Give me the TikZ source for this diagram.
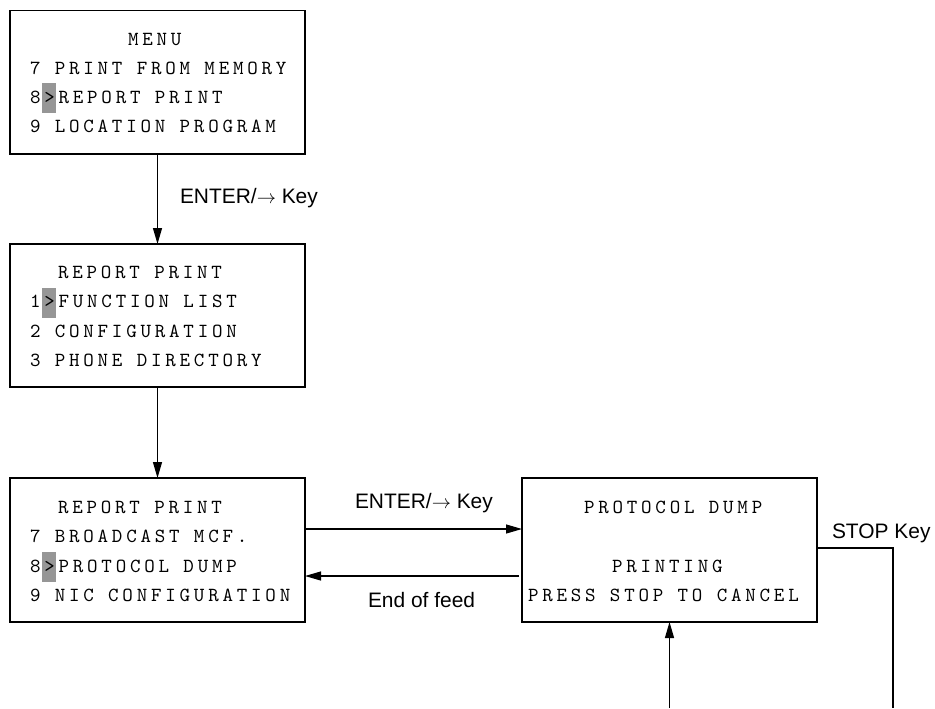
\documentclass[tikz,border=0pt]{standalone}
\usepackage{fontspec}
\usetikzlibrary{arrows.meta}
\newfontfamily\lcdfont{lmmono10-regular}[Extension=.otf, LetterSpace=19]
\newfontfamily\labfont{Liberation Sans}
\definecolor{hlgray}{RGB}{150,150,150}
\tikzset{
  lcdbox/.style={draw, line width=0.9pt, minimum width=221.25pt, minimum height=108pt, inner sep=0pt, outer sep=0pt},
  lcdtext/.style={anchor=base west, inner sep=0pt, outer sep=0pt, font=\fontsize{15pt}{17pt}\lcdfont},
  labtext/.style={anchor=base west, inner sep=0pt, outer sep=0pt, font=\fontsize{15.7pt}{18pt}\labfont},
  hlbox/.style={fill=hlgray, minimum width=10.5pt, minimum height=22.5pt, inner sep=0pt, outer sep=0pt},
  flow/.style={line width=0.9pt, -{Triangle[length=12pt,width=6.75pt]}},
  plainline/.style={line width=0.9pt}
}
\begin{document}
\begin{tikzpicture}[x=0.75pt,y=-0.75pt]
\useasboundingbox (0,0) rectangle (935,708);
% boxes
\node[lcdbox, minimum height=107.6pt] (m1) at (157.5,82.25) {};
\node[lcdbox, minimum height=107.25pt] (m2) at (157.5,315.5) {};
\node[lcdbox] (m3) at (157.5,550) {};
\node[lcdbox] (m4) at (669.5,550) {};
% highlights
\node[hlbox] (h1) at (49,98) {};
\node[hlbox] (h2) at (49,302.5) {};
\node[hlbox] (h3) at (48.5,567) {};
% box 1 text
\node[lcdtext] (t1a) at (128,45) {MENU};
\node[lcdtext] (t1b) at (30,74) {7 PRINT FROM MEMORY};
\node[lcdtext] (t1c) at (30,103) {8>REPORT PRINT};
\node[lcdtext] (t1d) at (30,132) {9 LOCATION PROGRAM};
% box 2 text
\node[lcdtext] (t2a) at (58,278) {REPORT PRINT};
\node[lcdtext] (t2b) at (30,307.5) {1>FUNCTION LIST};
\node[lcdtext] (t2c) at (30,337) {2 CONFIGURATION};
\node[lcdtext] (t2d) at (30,366.5) {3 PHONE DIRECTORY};
% box 3 text
\node[lcdtext] (t3a) at (58,513) {REPORT PRINT};
\node[lcdtext] (t3b) at (30,542.5) {7 BROADCAST MCF.};
\node[lcdtext] (t3c) at (30,572) {8>PROTOCOL DUMP};
\node[lcdtext] (t3d) at (30,601) {9 NIC CONFIGURATION};
% box 4 text
\node[lcdtext] (t4a) at (584,513) {PROTOCOL DUMP};
\node[lcdtext] (t4b) at (612,572) {PRINTING};
\node[lcdtext] (t4c) at (528,601) {PRESS STOP TO CANCEL};
% labels
\node[labtext] (l1) at (180,203) {ENTER/$\rightarrow$ Key};
\node[labtext] (l2) at (355,508) {ENTER/$\rightarrow$ Key};
\node[labtext] (l3) at (368,607) {End of feed};
\node[labtext] (l4) at (832,538) {STOP Key};
% connectors
\draw[flow] (m1.south) -- (m2.north);
\draw[flow] (m2.south) -- (m3.north);
\draw[flow] ([yshift=15.75pt]m3.east) -- ([yshift=15.75pt]m4.west);
\draw[flow, shorten <=2.25pt] ([yshift=-19.5pt]m4.west) -- ([yshift=-19.5pt]m3.east);
\coordinate (s1) at (893,548);
\coordinate (s2) at (893,708);
\draw[plainline] ([yshift=1.5pt]m4.east) -- (s1) -- (s2);
\coordinate (u0) at (669.5,708);
\draw[flow] (u0) -- (m4.south);
\end{tikzpicture}
\end{document}
